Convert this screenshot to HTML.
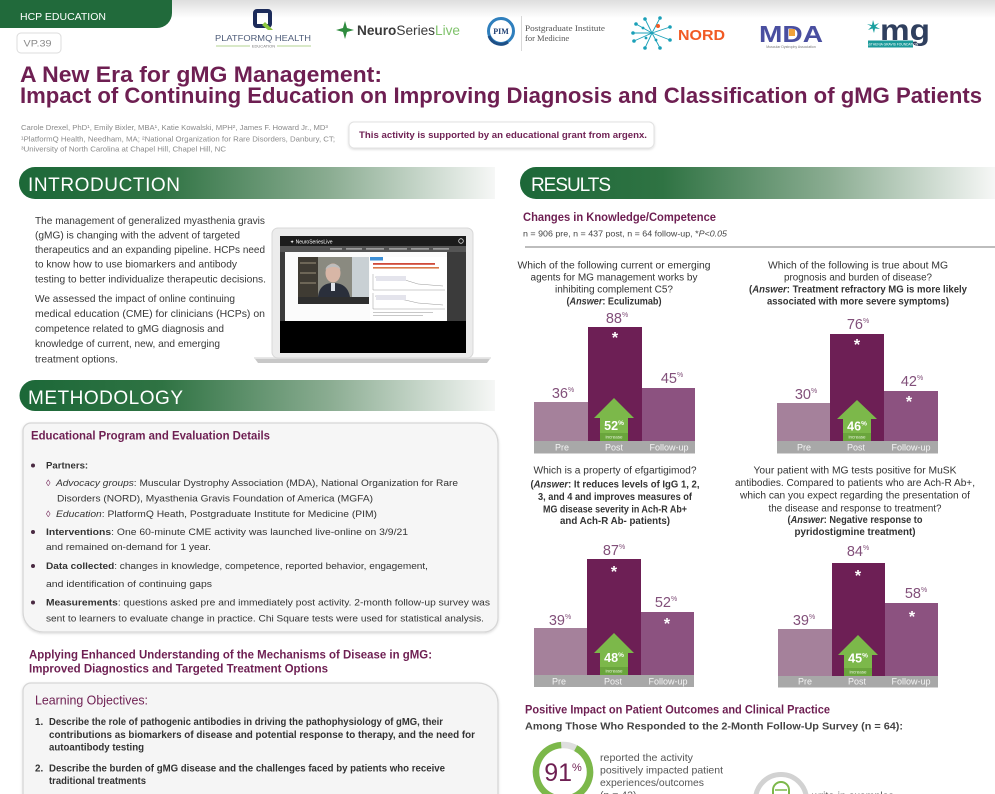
<!DOCTYPE html>
<html><head><meta charset="utf-8">
<style>
html,body{margin:0;padding:0;background:#fff;}
svg{display:block;}
text{font-family:"Liberation Sans",Arial,sans-serif;}
.serif{font-family:"Liberation Serif",serif;}
</style></head><body>
<svg width="995" height="794" viewBox="0 0 995 794" xmlns="http://www.w3.org/2000/svg">
<defs>
<linearGradient id="topg" x1="0" y1="0" x2="0" y2="1">
<stop offset="0" stop-color="#dedede"/><stop offset="1" stop-color="#ffffff"/>
</linearGradient>
<linearGradient id="gbar" x1="0" y1="0" x2="1" y2="0">
<stop offset="0" stop-color="#1c6838"/>
<stop offset="0.3" stop-color="#2f7343"/>
<stop offset="0.65" stop-color="#8aac91"/>
<stop offset="1" stop-color="#f6f7f6"/>
</linearGradient>
<filter id="sh" x="-5%" y="-5%" width="110%" height="120%">
<feDropShadow dx="0" dy="1" stdDeviation="1.2" flood-color="#000" flood-opacity="0.15"/>
</filter>
</defs>

<!-- top header bg -->
<rect x="0" y="0" width="995" height="18" fill="url(#topg)"/>
<path d="M0,0 H172 V13 A15,15 0 0 1 157,28 H0 Z" fill="#216a3b"/>
<text x="20" y="20" font-size="10.5" fill="#fff" textLength="86" lengthAdjust="spacingAndGlyphs">HCP EDUCATION</text>
<rect x="17" y="33" width="44" height="20" rx="4" fill="#fff" stroke="#dcdcdc"/>
<text x="23.5" y="46.5" font-size="9.5" fill="#8a8a8a" textLength="28" lengthAdjust="spacingAndGlyphs">VP.39</text>

<!-- logos -->
<rect x="255" y="11" width="15" height="15" rx="2" fill="none" stroke="#1c2b5a" stroke-width="4"/>
<path d="M265,22 L273,30 L268,30 L262,25 Z" fill="#8cc63f"/>
<text x="215" y="41" font-size="8.5" fill="#4d5b78" textLength="96" lengthAdjust="spacingAndGlyphs">PLATFORMQ HEALTH</text>
<line x1="216" y1="46" x2="250" y2="46" stroke="#9ac46b" stroke-width="0.8"/>
<line x1="277" y1="46" x2="311" y2="46" stroke="#9ac46b" stroke-width="0.8"/>
<text x="263.5" y="47.5" font-size="4" fill="#777" text-anchor="middle">EDUCATION</text>

<path d="M345,21 L347,28 L354,30 L347,32 L345,39 L343,32 L336,30 L343,28 Z" fill="#2e8b3e"/>
<text x="357" y="35" font-size="14" fill="#3a3a3a" textLength="103" lengthAdjust="spacingAndGlyphs"><tspan font-weight="bold">Neuro</tspan>Series<tspan fill="#7fc26b">Live</tspan></text>

<circle cx="501" cy="31" r="12.5" fill="#fff" stroke="#2f7fbd" stroke-width="3"/>
<path d="M489,36 A12.5,12.5 0 0 0 508,42" fill="none" stroke="#1e4f86" stroke-width="3"/>
<text class="serif" x="501" y="34" font-size="8" fill="#1e3f72" text-anchor="middle" font-weight="bold">PIM</text>
<line x1="521.5" y1="16" x2="521.5" y2="51" stroke="#cfcfcf" stroke-width="0.8"/>
<text class="serif" x="525" y="31" font-size="8.5" fill="#555" textLength="80" lengthAdjust="spacingAndGlyphs">Postgraduate Institute</text>
<text class="serif" x="525" y="41" font-size="8.5" fill="#555">for Medicine</text>

<g stroke="#1aa0b8" stroke-width="0.9">
<line x1="652" y1="33" x2="636" y2="24"/><line x1="652" y1="33" x2="645" y2="19"/>
<line x1="652" y1="33" x2="660" y2="18"/><line x1="652" y1="33" x2="670" y2="27"/>
<line x1="652" y1="33" x2="670" y2="40"/><line x1="652" y1="33" x2="660" y2="48"/>
<line x1="652" y1="33" x2="645" y2="48"/><line x1="652" y1="33" x2="634" y2="41"/>
<line x1="652" y1="33" x2="633" y2="33"/>
</g>
<g fill="#1aa0b8">
<circle cx="636" cy="24" r="1.8"/><circle cx="645" cy="19" r="1.8"/><circle cx="660" cy="18" r="1.8"/>
<circle cx="670" cy="27" r="1.8"/><circle cx="670" cy="40" r="1.8"/><circle cx="660" cy="48" r="1.8"/>
<circle cx="645" cy="48" r="1.8"/><circle cx="634" cy="41" r="1.8"/><circle cx="633" cy="33" r="1.8"/>
<circle cx="643" cy="28" r="1.4"/><circle cx="656" cy="40" r="1.4"/><circle cx="646" cy="38" r="1.4"/>
</g>
<circle cx="658" cy="26" r="2" fill="#f15a24"/>
<text x="678" y="40" font-size="15" font-weight="bold" fill="#f15a24" textLength="47" lengthAdjust="spacingAndGlyphs">NORD</text>

<text x="759" y="42" font-size="23" font-weight="bold" fill="#4a4fa0" textLength="64" lengthAdjust="spacingAndGlyphs">MDA</text>
<rect x="789" y="29" width="6" height="7" fill="#f0a23a"/>
<text x="791" y="48" font-size="3.5" fill="#777" text-anchor="middle">Muscular Dystrophy Association</text>

<path d="M873,20 L874.5,25 L879,23 L875.5,26.5 L880,29 L875,28.5 L874,33 L872.5,28.5 L868,30 L871.5,26.5 L867,24 L872,25 Z" fill="#1aa0a0"/>
<text x="880" y="40" font-size="30" font-weight="bold" fill="#2f3f5e" textLength="50" lengthAdjust="spacingAndGlyphs">mg</text>
<rect x="868" y="40.5" width="45" height="7" fill="#1a9a9a"/>
<text x="890" y="45.5" font-size="3.3" fill="#fff" text-anchor="middle">MYASTHENIA GRAVIS FOUNDATION</text>

<!-- title -->
<text x="20" y="82" font-size="22" font-weight="bold" fill="#6e1f52" textLength="362" lengthAdjust="spacingAndGlyphs">A New Era for gMG Management:</text>
<text x="20" y="103" font-size="22" font-weight="bold" fill="#6e1f52" textLength="962" lengthAdjust="spacingAndGlyphs">Impact of Continuing Education on Improving Diagnosis and Classification of gMG Patients</text>

<text x="21" y="130" font-size="7.3" fill="#8a8a8a" textLength="307" lengthAdjust="spacingAndGlyphs">Carole Drexel, PhD¹, Emily Bixler, MBA¹, Katie Kowalski, MPH², James F. Howard Jr., MD³</text>
<text x="21" y="141.5" font-size="7.3" fill="#8a8a8a" textLength="314" lengthAdjust="spacingAndGlyphs">¹PlatformQ Health, Needham, MA; ²National Organization for Rare Disorders, Danbury, CT;</text>
<text x="21" y="151.5" font-size="7.3" fill="#8a8a8a" textLength="205" lengthAdjust="spacingAndGlyphs">³University of North Carolina at Chapel Hill, Chapel Hill, NC</text>

<rect x="349" y="122" width="305" height="26" rx="5" fill="#fff" stroke="#e2e2e2" filter="url(#sh)"/>
<text x="359" y="138" font-size="9.5" font-weight="bold" fill="#6e1f52" textLength="288" lengthAdjust="spacingAndGlyphs">This activity is supported by an educational grant from argenx.</text>

<!-- INTRODUCTION -->
<path d="M35,167 H495 V199 H35 A16,16 0 0 1 35,167 Z" fill="url(#gbar)"/>
<text x="28" y="191" font-size="19" fill="#fff" textLength="152">INTRODUCTION</text>

<g font-size="10.3" fill="#383838">
<text x="35" y="224" textLength="230" lengthAdjust="spacingAndGlyphs">The management of generalized myasthenia gravis</text>
<text x="35" y="238.5" textLength="205" lengthAdjust="spacingAndGlyphs">(gMG) is changing with the advent of targeted</text>
<text x="35" y="253" textLength="230" lengthAdjust="spacingAndGlyphs">therapeutics and an expanding pipeline. HCPs need</text>
<text x="35" y="267.5" textLength="202" lengthAdjust="spacingAndGlyphs">to know how to use biomarkers and antibody</text>
<text x="35" y="282.5" textLength="231" lengthAdjust="spacingAndGlyphs">testing to better individualize therapeutic decisions.</text>
<text x="35" y="302" textLength="200" lengthAdjust="spacingAndGlyphs">We assessed the impact of online continuing</text>
<text x="35" y="317" textLength="230" lengthAdjust="spacingAndGlyphs">medical education (CME) for clinicians (HCPs) on</text>
<text x="35" y="332" textLength="189" lengthAdjust="spacingAndGlyphs">competence related to gMG diagnosis and</text>
<text x="35" y="347" textLength="185" lengthAdjust="spacingAndGlyphs">knowledge of current, new, and emerging</text>
<text x="35" y="362.5" textLength="83" lengthAdjust="spacingAndGlyphs">treatment options.</text>
</g>

<!-- laptop -->
<path d="M254,357.5 H491 L487,363 H258 Z" fill="#c8c8c8"/>
<rect x="254" y="357" width="237" height="1.8" fill="#e8e8e8"/>
<rect x="272" y="228" width="201" height="130" rx="6" fill="#ececec" stroke="#d8d8d8"/>
<rect x="280" y="236" width="186" height="117" fill="#3b3b3b"/>
<rect x="280" y="236" width="186" height="10" fill="#1c1c1c"/>
<text x="290" y="243.5" font-size="5" fill="#fff">✦ NeuroSeriesLive</text>
<circle cx="461" cy="241" r="2.3" fill="none" stroke="#ddd" stroke-width="0.8"/>
<rect x="280" y="246" width="186" height="6" fill="#555"/>
<g fill="#bbb"><rect x="330" y="248.3" width="12" height="1.2"/><rect x="346" y="248.3" width="16" height="1.2"/><rect x="366" y="248.3" width="18" height="1.2"/><rect x="389" y="248.3" width="18" height="1.2"/><rect x="411" y="248.3" width="18" height="1.2"/><rect x="433" y="248.3" width="16" height="1.2"/></g>
<rect x="285" y="252" width="162" height="69" fill="#fbfbfb"/>
<rect x="298" y="257" width="71" height="40" fill="#8a8a80"/>
<rect x="298" y="257" width="20" height="40" fill="#3f3b33"/>
<g fill="#6d6657"><rect x="300" y="262" width="16" height="2"/><rect x="300" y="272" width="16" height="2"/><rect x="300" y="282" width="16" height="2"/></g>
<rect x="352" y="257" width="17" height="40" fill="#c9d0d4"/>
<path d="M318,297 C319,286 326,283 333,283 C341,283 348,286 350,297 Z" fill="#2a2f3b"/>
<rect x="331" y="283" width="4" height="8" fill="#dfe3ea"/>
<ellipse cx="333" cy="273" rx="7.5" ry="9.5" fill="#d8b6a6"/>
<path d="M325.5,270 C326,262 340,262 340.5,270 C339,266 328,266 325.5,270 Z" fill="#bdbdbd"/>
<rect x="298" y="297" width="71" height="7" fill="#2e2e2e"/>
<rect x="370" y="257" width="77" height="63" fill="#fff"/>
<rect x="370" y="257" width="13" height="3.5" fill="#3d8fd6"/>
<rect x="373" y="263" width="62" height="1.8" fill="#d04a3a"/>
<rect x="373" y="267" width="66" height="1.6" fill="#d9784a"/>
<g stroke="#999" stroke-width="0.5" fill="none">
<path d="M373,274 V290 H445"/><path d="M373,293 V309 H445"/>
<path d="M375,277 L392,279 L405,280 L418,284 L443,286"/>
<path d="M375,296 L392,298 L405,300 L418,303 L443,305"/>
</g>
<rect x="376" y="276" width="30" height="5" fill="#e4e4ec"/>
<rect x="376" y="295" width="30" height="5" fill="#e4e4ec"/>
<g fill="#bbb"><rect x="373" y="312" width="60" height="0.8"/><rect x="373" y="315" width="50" height="0.8"/></g>
<rect x="280" y="321" width="186" height="32" fill="#000"/>

<!-- METHODOLOGY -->
<path d="M35,380 H495 V411 H35 A15.5,15.5 0 0 1 35,380 Z" fill="url(#gbar)"/>
<text x="28" y="404" font-size="19" fill="#fff" textLength="155">METHODOLOGY</text>

<path d="M31,423 H478 A20,20 0 0 1 498,443 V618 A14,14 0 0 1 484,632 H43 A20,20 0 0 1 23,612 V431 A8,8 0 0 1 31,423 Z" fill="#f6f6f6" stroke="#d6d6d6" stroke-width="1.3" filter="url(#sh)"/>
<text x="31" y="439.5" font-size="12" font-weight="bold" fill="#6e1f52" textLength="239" lengthAdjust="spacingAndGlyphs">Educational Program and Evaluation Details</text>

<g fill="#4a2a42"><circle cx="33" cy="465.5" r="2"/><circle cx="33" cy="532" r="2"/><circle cx="33" cy="566" r="2"/><circle cx="33" cy="602.5" r="2"/></g>
<g font-size="9.6" fill="#333">
<text x="46" y="468.5" font-weight="bold">Partners:</text>
<text x="46" y="486" fill="#6e1f52" font-size="9">◊</text>
<text x="56" y="486" textLength="402" lengthAdjust="spacingAndGlyphs"><tspan font-style="italic">Advocacy groups</tspan>: Muscular Dystrophy Association (MDA), National Organization for Rare</text>
<text x="57" y="501.5" textLength="316" lengthAdjust="spacingAndGlyphs">Disorders (NORD), Myasthenia Gravis Foundation of America (MGFA)</text>
<text x="46" y="517" fill="#6e1f52" font-size="9">◊</text>
<text x="56" y="517" textLength="321" lengthAdjust="spacingAndGlyphs"><tspan font-style="italic">Education</tspan>: PlatformQ Heath, Postgraduate Institute for Medicine (PIM)</text>
<text x="46" y="535" textLength="362" lengthAdjust="spacingAndGlyphs"><tspan font-weight="bold">Interventions</tspan>: One 60-minute CME activity was launched live-online on 3/9/21</text>
<text x="46" y="550" textLength="165" lengthAdjust="spacingAndGlyphs">and remained on-demand for 1 year.</text>
<text x="46" y="569" textLength="382" lengthAdjust="spacingAndGlyphs"><tspan font-weight="bold">Data collected</tspan>: changes in knowledge, competence, reported behavior, engagement,</text>
<text x="46" y="587" textLength="166" lengthAdjust="spacingAndGlyphs">and identification of continuing gaps</text>
<text x="46" y="605.5" textLength="444" lengthAdjust="spacingAndGlyphs"><tspan font-weight="bold">Measurements</tspan>: questions asked pre and immediately post activity. 2-month follow-up survey was</text>
<text x="46" y="621.5" textLength="438" lengthAdjust="spacingAndGlyphs">sent to learners to evaluate change in practice. Chi Square tests were used for statistical analysis.</text>
</g>

<text x="29" y="658.5" font-size="12" font-weight="bold" fill="#6e1f52" textLength="403" lengthAdjust="spacingAndGlyphs">Applying Enhanced Understanding of the Mechanisms of Disease in gMG:</text>
<text x="29" y="672.5" font-size="12" font-weight="bold" fill="#6e1f52" textLength="299" lengthAdjust="spacingAndGlyphs">Improved Diagnostics and Targeted Treatment Options</text>

<path d="M31,683 H478 A20,20 0 0 1 498,703 V812 H23 V691 A8,8 0 0 1 31,683 Z" fill="#f5f5f5" stroke="#d6d6d6" stroke-width="1.3" filter="url(#sh)"/>
<text x="35" y="704.5" font-size="13" fill="#6e1f52" textLength="113" lengthAdjust="spacingAndGlyphs">Learning Objectives:</text>
<g font-size="9.8" font-weight="bold" fill="#333">
<text x="35" y="725">1.</text>
<text x="49" y="725" textLength="394" lengthAdjust="spacingAndGlyphs">Describe the role of pathogenic antibodies in driving the pathophysiology of gMG, their</text>
<text x="49" y="738" textLength="426" lengthAdjust="spacingAndGlyphs">contributions as biomarkers of disease and potential response to therapy, and the need for</text>
<text x="49" y="750.5" textLength="95" lengthAdjust="spacingAndGlyphs">autoantibody testing</text>
<text x="35" y="771.5">2.</text>
<text x="49" y="771.5" textLength="396" lengthAdjust="spacingAndGlyphs">Describe the burden of gMG disease and the challenges faced by patients who receive</text>
<text x="49" y="784" textLength="97" lengthAdjust="spacingAndGlyphs">traditional treatments</text>
</g>

<!-- RESULTS -->
<path d="M536,167 H995 V199 H536 A16,16 0 0 1 536,167 Z" fill="url(#gbar)"/>
<text x="531" y="191" font-size="19" fill="#fff" textLength="80">RESULTS</text>

<text x="523" y="221" font-size="11.5" font-weight="bold" fill="#6e1f52" textLength="193" lengthAdjust="spacingAndGlyphs">Changes in Knowledge/Competence</text>
<text x="523" y="236.5" font-size="8.5" fill="#444" textLength="204" lengthAdjust="spacingAndGlyphs">n = 906 pre, n = 437 post, n = 64 follow-up, *<tspan font-style="italic">P&lt;0.05</tspan></text>
<line x1="525" y1="247" x2="995" y2="247" stroke="#bdbdbd" stroke-width="2"/>

<!-- chart questions -->
<g font-size="10" fill="#333" text-anchor="middle">
<text x="614" y="268.5" textLength="193" lengthAdjust="spacingAndGlyphs">Which of the following current or emerging</text>
<text x="614" y="280.5" textLength="167" lengthAdjust="spacingAndGlyphs">agents for MG management works by</text>
<text x="614" y="292.5" textLength="118" lengthAdjust="spacingAndGlyphs">inhibiting complement C5?</text>
<text x="614" y="304.5" font-weight="bold" textLength="95" lengthAdjust="spacingAndGlyphs">(<tspan font-style="italic">Answer</tspan>: Eculizumab)</text>

<text x="858" y="268.5" textLength="180" lengthAdjust="spacingAndGlyphs">Which of the following is true about MG</text>
<text x="858" y="280.5" textLength="148" lengthAdjust="spacingAndGlyphs">prognosis and burden of disease?</text>
<text x="858" y="292.5" font-weight="bold" textLength="218" lengthAdjust="spacingAndGlyphs">(<tspan font-style="italic">Answer</tspan>: Treatment refractory MG is more likely</text>
<text x="858" y="304.5" font-weight="bold" textLength="182" lengthAdjust="spacingAndGlyphs">associated with more severe symptoms)</text>

<text x="615" y="473.5" textLength="163" lengthAdjust="spacingAndGlyphs">Which is a property of efgartigimod?</text>
<text x="615" y="487.5" font-weight="bold" textLength="169" lengthAdjust="spacingAndGlyphs">(<tspan font-style="italic">Answer</tspan>: It reduces levels of IgG 1, 2,</text>
<text x="615" y="500" font-weight="bold" textLength="154" lengthAdjust="spacingAndGlyphs">3, and 4 and improves measures of</text>
<text x="615" y="512.5" font-weight="bold" textLength="144" lengthAdjust="spacingAndGlyphs">MG disease severity in Ach-R Ab+</text>
<text x="615" y="524" font-weight="bold" textLength="110" lengthAdjust="spacingAndGlyphs">and Ach-R Ab- patients)</text>

<text x="855" y="473.5" textLength="203" lengthAdjust="spacingAndGlyphs">Your patient with MG tests positive for MuSK</text>
<text x="855" y="486" textLength="240" lengthAdjust="spacingAndGlyphs">antibodies. Compared to patients who are Ach-R Ab+,</text>
<text x="855" y="498.5" textLength="230" lengthAdjust="spacingAndGlyphs">which can you expect regarding the presentation of</text>
<text x="855" y="511.5" textLength="173" lengthAdjust="spacingAndGlyphs">the disease and response to treatment?</text>
<text x="855" y="523" font-weight="bold" textLength="135" lengthAdjust="spacingAndGlyphs">(<tspan font-style="italic">Answer</tspan>: Negative response to</text>
<text x="855" y="535" font-weight="bold" textLength="121" lengthAdjust="spacingAndGlyphs">pyridostigmine treatment)</text>
</g>

<!-- Chart 1 -->
<rect x="534" y="402" width="54" height="39" fill="#a5819b"/>
<rect x="588" y="327" width="54" height="114" fill="#6d1f55"/>
<rect x="642" y="388" width="53" height="53" fill="#8c5280"/>
<rect x="534" y="441" width="161" height="12.5" fill="#a8a8a8"/>
<!-- Chart 2 -->
<rect x="777" y="403" width="53" height="38" fill="#a5819b"/>
<rect x="830" y="334" width="54" height="107" fill="#6d1f55"/>
<rect x="884" y="391" width="54" height="50" fill="#8c5280"/>
<rect x="777" y="441" width="161" height="12.5" fill="#a8a8a8"/>
<!-- Chart 3 -->
<rect x="534" y="628" width="53" height="47" fill="#a5819b"/>
<rect x="587" y="559" width="54" height="116" fill="#6d1f55"/>
<rect x="641" y="612" width="53" height="63" fill="#8c5280"/>
<rect x="534" y="675" width="160" height="12" fill="#a8a8a8"/>
<!-- Chart 4 -->
<rect x="778" y="629" width="54" height="47" fill="#a5819b"/>
<rect x="832" y="563" width="53" height="113" fill="#6d1f55"/>
<rect x="885" y="603" width="53" height="73" fill="#8c5280"/>
<rect x="778" y="676" width="160" height="11.5" fill="#a8a8a8"/>

<!-- arrows -->
<g fill="#7cb84a">
<path d="M614,398 L634,418 L628,418 L628,441 L600,441 L600,418 L594,418 Z"/>
<path d="M857,400 L877,419 L871,419 L871,441 L843,441 L843,419 L837,419 Z"/>
<path d="M614,633 L634,653 L628,653 L628,675 L600,675 L600,653 L594,653 Z"/>
<path d="M858,635 L878,655 L872,655 L872,676 L844,676 L844,655 L838,655 Z"/>
</g>
<g fill="#6aa53c">
<rect x="600" y="433" width="28" height="8"/>
<rect x="843" y="433" width="28" height="8"/>
<rect x="600" y="667" width="28" height="8"/>
<rect x="844" y="668" width="28" height="8"/>
</g>
<g fill="#fff" text-anchor="middle" font-weight="bold" font-size="12.5">
<text x="614" y="430">52<tspan font-size="6.5" dy="-5">%</tspan></text>
<text x="857" y="430.5">46<tspan font-size="6.5" dy="-5">%</tspan></text>
<text x="614" y="662">48<tspan font-size="6.5" dy="-5">%</tspan></text>
<text x="858" y="662.5">45<tspan font-size="6.5" dy="-5">%</tspan></text>
</g>
<g fill="#e8f4dc" text-anchor="middle" font-size="4.5">
<text x="614" y="438.5">increase</text>
<text x="857" y="438.5">increase</text>
<text x="614" y="672.5">increase</text>
<text x="858" y="673.5">increase</text>
</g>

<!-- value labels -->
<g fill="#82507a" text-anchor="middle" font-size="14.5">
<text x="563" y="398">36<tspan font-size="7" dy="-6">%</tspan></text>
<text x="617" y="323">88<tspan font-size="7" dy="-6">%</tspan></text>
<text x="672" y="383">45<tspan font-size="7" dy="-6">%</tspan></text>
<text x="806" y="399">30<tspan font-size="7" dy="-6">%</tspan></text>
<text x="858" y="329">76<tspan font-size="7" dy="-6">%</tspan></text>
<text x="912" y="386">42<tspan font-size="7" dy="-6">%</tspan></text>
<text x="560" y="625">39<tspan font-size="7" dy="-6">%</tspan></text>
<text x="614" y="555">87<tspan font-size="7" dy="-6">%</tspan></text>
<text x="666" y="607">52<tspan font-size="7" dy="-6">%</tspan></text>
<text x="804" y="625">39<tspan font-size="7" dy="-6">%</tspan></text>
<text x="858" y="556">84<tspan font-size="7" dy="-6">%</tspan></text>
<text x="916" y="598">58<tspan font-size="7" dy="-6">%</tspan></text>
</g>

<!-- asterisks -->
<g fill="#fff" text-anchor="middle" font-size="16" font-weight="bold">
<text x="615" y="343">*</text>
<text x="857" y="350">*</text>
<text x="909" y="407">*</text>
<text x="614" y="577">*</text>
<text x="667" y="629">*</text>
<text x="858" y="581">*</text>
<text x="912" y="622">*</text>
</g>

<!-- strip labels -->
<g fill="#f4f4f4" text-anchor="middle" font-size="9">
<text x="562" y="450.5">Pre</text><text x="614" y="450.5">Post</text><text x="669" y="450.5">Follow-up</text>
<text x="804" y="450.5">Pre</text><text x="856" y="450.5">Post</text><text x="911" y="450.5">Follow-up</text>
<text x="559" y="684.5">Pre</text><text x="613" y="684.5">Post</text><text x="668" y="684.5">Follow-up</text>
<text x="805" y="684.5">Pre</text><text x="857" y="684.5">Post</text><text x="911" y="684.5">Follow-up</text>
</g>

<!-- positive impact -->
<text x="525" y="713.5" font-size="11.5" font-weight="bold" fill="#6e1f52" textLength="305" lengthAdjust="spacingAndGlyphs">Positive Impact on Patient Outcomes and Clinical Practice</text>
<text x="525" y="729.5" font-size="10" font-weight="bold" fill="#444" textLength="378" lengthAdjust="spacingAndGlyphs">Among Those Who Responded to the 2-Month Follow-Up Survey (n = 64):</text>

<circle cx="563" cy="772" r="27" fill="none" stroke="#dedede" stroke-width="6.5"/>
<circle cx="563" cy="772" r="27" fill="none" stroke="#7cb84a" stroke-width="6.5" stroke-dasharray="154.4 200" transform="rotate(-62 563 772)"/>
<text x="563" y="781" font-size="25" fill="#6e1f52" text-anchor="middle">91<tspan font-size="11" dy="-10">%</tspan></text>
<g font-size="10.5" fill="#555">
<text x="600" y="761" textLength="93" lengthAdjust="spacingAndGlyphs">reported the activity</text>
<text x="600" y="773.5" textLength="123" lengthAdjust="spacingAndGlyphs">positively impacted patient</text>
<text x="600" y="786" textLength="104" lengthAdjust="spacingAndGlyphs">experiences/outcomes</text>
<text x="600" y="798.5">(n = 42)</text>
<text x="812" y="799">write-in examples</text>
</g>
<circle cx="781" cy="800" r="25.5" fill="none" stroke="#d2d2d2" stroke-width="5"/>
<path d="M773,796 V790 A8,8 0 0 1 789,790 V796" fill="none" stroke="#7cb84a" stroke-width="2"/>
<path d="M775,790 H787" fill="none" stroke="#7cb84a" stroke-width="1.5"/>
</svg>
</body></html>
